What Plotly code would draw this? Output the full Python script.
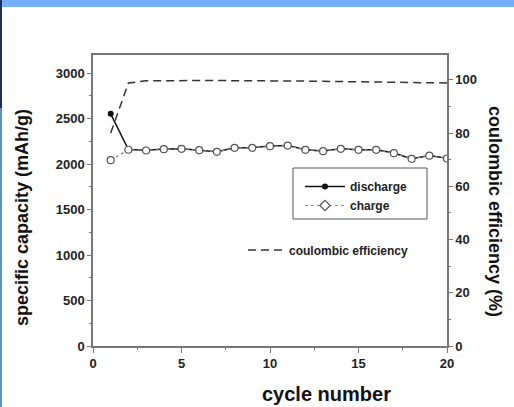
import plotly.graph_objects as go

cycles = list(range(1, 21))
discharge = [2553, 2160, 2152, 2166, 2170, 2155, 2137, 2181, 2181, 2199,
             2206, 2159, 2144, 2170, 2159, 2159, 2122, 2060, 2095, 2064]
charge = [2043, 2158, 2150, 2164, 2168, 2153, 2135, 2179, 2179, 2197,
          2204, 2157, 2142, 2168, 2157, 2157, 2120, 2058, 2093, 2062]
efficiency = [80.0, 98.8, 99.6, 99.7, 99.7, 99.7, 99.7, 99.7, 99.7, 99.7,
              99.6, 99.5, 99.4, 99.3, 99.2, 99.1, 99.0, 98.9, 98.8, 98.8]

W, H = 514, 407
L, R, T, B = 93, 67, 55, 61
PW, PH = W - L - R, H - T - B

def px(x):
    return (x - L) / PW

def py(y):
    return (H - B - y) / PH

FONT = "Liberation Sans, Arial, sans-serif"
AX = "#777777"

fig = go.Figure()

fig.add_trace(go.Scatter(
    x=cycles, y=efficiency, yaxis="y2", mode="lines",
    line=dict(color="#333333", width=1.5, dash="8px,5px"),
    name="coulombic efficiency", legend="legend2"))

fig.add_trace(go.Scatter(
    x=cycles, y=discharge, mode="lines+markers",
    line=dict(color="#111111", width=1.5),
    marker=dict(symbol="circle", size=6, color="#111111"),
    name="discharge", legend="legend"))

fig.add_trace(go.Scatter(
    x=cycles, y=charge, mode="lines+markers",
    line=dict(color="#888888", width=1.2, dash="dot"),
    marker=dict(symbol="circle", size=7, color="white",
                line=dict(width=1.2, color="#555555")),
    name="charge", showlegend=False))

fig.add_trace(go.Scatter(
    x=[None], y=[None], mode="lines+markers",
    line=dict(color="#888888", width=1.2, dash="dot"),
    marker=dict(symbol="diamond", size=8, color="white",
                line=dict(width=1.2, color="#555555")),
    name="charge", legend="legend"))

tickfont = dict(family=FONT, size=13, color="#222222", weight="bold")
legfont = dict(family=FONT, size=12, color="#222222", weight="bold")

fig.update_layout(
    width=W, height=H,
    margin=dict(l=L, r=R, t=T, b=B),
    paper_bgcolor="white", plot_bgcolor="white",
    showlegend=True,
    xaxis=dict(range=[0, 20], dtick=5, tick0=0, showgrid=False, zeroline=False,
               showline=True, linecolor=AX, linewidth=1.5, mirror=True,
               ticks="outside", ticklen=5, tickcolor=AX, tickwidth=1.2,
               minor=dict(dtick=2.5, ticks="outside", ticklen=2, tickcolor=AX),
               tickfont=tickfont),
    yaxis=dict(range=[0, 3200], dtick=500, tick0=0, showgrid=False, zeroline=False,
               showline=True, linecolor=AX, linewidth=1.5,
               ticks="outside", ticklen=4, tickcolor=AX, tickwidth=1.2,
               minor=dict(dtick=250, ticks="outside", ticklen=2, tickcolor=AX),
               tickfont=tickfont),
    yaxis2=dict(range=[0, 109.3], dtick=20, tick0=0, overlaying="y", side="right",
                showgrid=False, zeroline=False,
                showline=True, linecolor=AX, linewidth=1.5,
                ticks="outside", ticklen=4, tickcolor=AX, tickwidth=1.2,
                minor=dict(dtick=10, ticks="outside", ticklen=2, tickcolor=AX),
                tickfont=tickfont),
    legend=dict(x=px(300), y=py(172), xanchor="left", yanchor="top",
                bgcolor="rgba(0,0,0,0)", borderwidth=0,
                font=legfont, itemwidth=40, tracegroupgap=0),
    legend2=dict(x=px(243), y=py(250), xanchor="left", yanchor="middle",
                 bgcolor="rgba(0,0,0,0)", borderwidth=0,
                 font=legfont, itemwidth=36),
    shapes=[
        dict(type="rect", xref="paper", yref="paper",
             x0=px(293), x1=px(427), y0=py(219), y1=py(168),
             line=dict(color="#555555", width=1), fillcolor="rgba(0,0,0,0)"),
        dict(type="rect", xref="paper", yref="paper",
             x0=px(0), x1=px(W), y0=py(7), y1=py(0),
             line=dict(width=0), fillcolor="#74AEFF"),
        dict(type="rect", xref="paper", yref="paper",
             x0=px(0), x1=px(2), y0=py(108), y1=py(0),
             line=dict(width=0), fillcolor="#1E3250"),
        dict(type="rect", xref="paper", yref="paper",
             x0=px(0), x1=px(2), y0=py(H), y1=py(108),
             line=dict(width=0), fillcolor="#5F8FD0"),
    ],
    annotations=[
        dict(text="<b>specific capacity (mAh/g)</b>", xref="paper", yref="paper",
             x=px(22), y=py(218), xanchor="center", yanchor="middle",
             textangle=-90, showarrow=False,
             font=dict(family=FONT, size=18, color="#111111")),
        dict(text="<b>coulombic efficiency (%)</b>", xref="paper", yref="paper",
             x=px(495), y=py(211), xanchor="center", yanchor="middle",
             textangle=90, showarrow=False,
             font=dict(family=FONT, size=18, color="#111111")),
        dict(text="<b>cycle number</b>", xref="paper", yref="paper",
             x=px(326), y=py(394), xanchor="center", yanchor="middle",
             showarrow=False,
             font=dict(family=FONT, size=20, color="#111111")),
    ],
)

fig.write_html("out.html")
